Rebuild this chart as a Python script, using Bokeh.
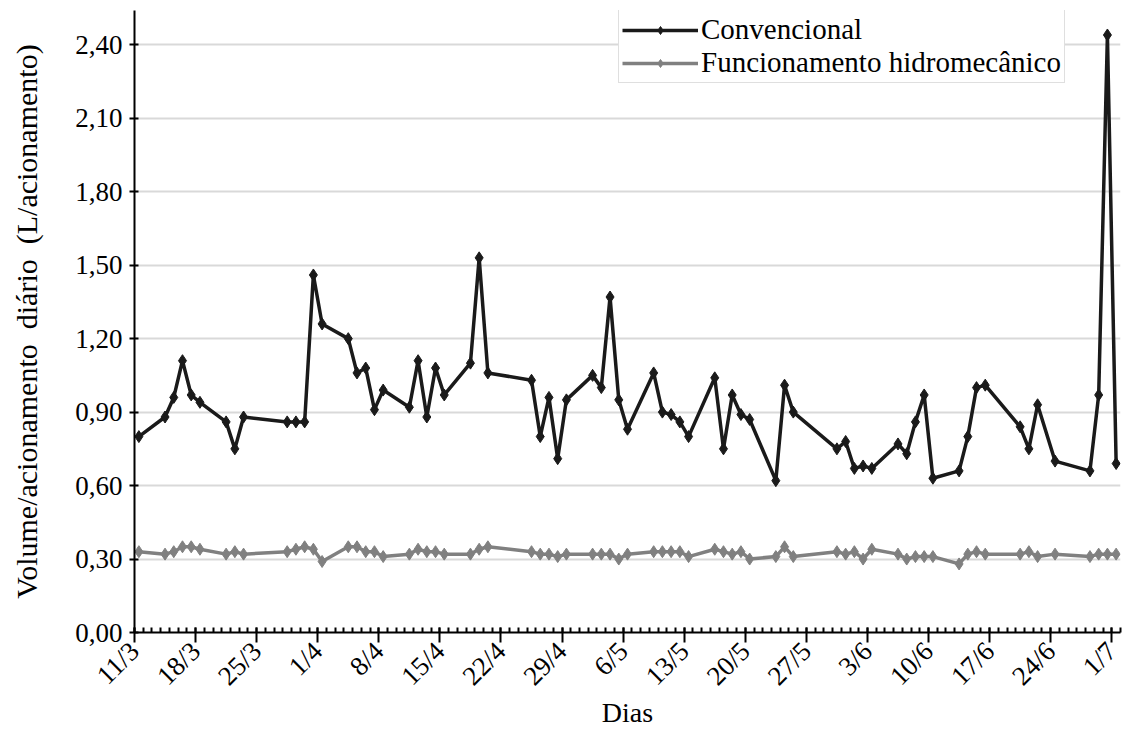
from datetime import date
from bokeh.plotting import figure
from bokeh.models import Range1d, FixedTicker, CustomJSTickFormatter, Legend, LegendItem
from bokeh.embed import file_html
from bokeh.resources import INLINE
import math

# ---- data ----
dias = ["11/3", "14/3", "15/3", "16/3", "17/3", "18/3", "21/3", "22/3", "23/3", "28/3",
        "29/3", "30/3", "31/3", "1/4", "4/4", "5/4", "6/4", "7/4", "8/4", "11/4",
        "12/4", "13/4", "14/4", "15/4", "18/4", "19/4", "20/4", "25/4", "26/4", "27/4",
        "28/4", "29/4", "2/5", "3/5", "4/5", "5/5", "6/5", "9/5", "10/5", "11/5",
        "12/5", "13/5", "16/5", "17/5", "18/5", "19/5", "20/5", "23/5", "24/5", "25/5",
        "30/5", "31/5", "1/6", "2/6", "3/6", "6/6", "7/6", "8/6", "9/6", "10/6",
        "13/6", "14/6", "15/6", "16/6", "20/6", "21/6", "22/6", "24/6", "28/6", "29/6",
        "30/6", "1/7"]
convencional = [0.80, 0.88, 0.96, 1.11, 0.97, 0.94, 0.86, 0.75, 0.88, 0.86,
                0.86, 0.86, 1.46, 1.26, 1.20, 1.06, 1.08, 0.91, 0.99, 0.92,
                1.11, 0.88, 1.08, 0.97, 1.10, 1.53, 1.06, 1.03, 0.80, 0.96,
                0.71, 0.95, 1.05, 1.00, 1.37, 0.95, 0.83, 1.06, 0.90, 0.89,
                0.86, 0.80, 1.04, 0.75, 0.97, 0.89, 0.87, 0.62, 1.01, 0.90,
                0.75, 0.78, 0.67, 0.68, 0.67, 0.77, 0.73, 0.86, 0.97, 0.63,
                0.66, 0.80, 1.00, 1.01, 0.84, 0.75, 0.93, 0.70, 0.66, 0.97,
                2.44, 0.69]
hidromecanico = [0.33, 0.32, 0.33, 0.35, 0.35, 0.34, 0.32, 0.33, 0.32, 0.33,
                 0.34, 0.35, 0.34, 0.29, 0.35, 0.35, 0.33, 0.33, 0.31, 0.32,
                 0.34, 0.33, 0.33, 0.32, 0.32, 0.34, 0.35, 0.33, 0.32, 0.32,
                 0.31, 0.32, 0.32, 0.32, 0.32, 0.30, 0.32, 0.33, 0.33, 0.33,
                 0.33, 0.31, 0.34, 0.33, 0.32, 0.33, 0.30, 0.31, 0.35, 0.31,
                 0.33, 0.32, 0.33, 0.30, 0.34, 0.32, 0.30, 0.31, 0.31, 0.31,
                 0.28, 0.32, 0.33, 0.32, 0.32, 0.33, 0.31, 0.32, 0.31, 0.32,
                 0.32, 0.32]
rotulos_x = ["11/3", "18/3", "25/3", "1/4", "8/4", "15/4", "22/4", "29/4", "6/5",
             "13/5", "20/5", "27/5", "3/6", "10/6", "17/6", "24/6", "1/7"]
valores_y = [0.00, 0.30, 0.60, 0.90, 1.20, 1.50, 1.80, 2.10, 2.40]

ANO = 2013
inicio = date(ANO, 3, 11)


def dia_idx(s):
    d, m = s.split("/")
    return (date(ANO, int(m), int(d)) - inicio).days


# points sit in the middle of each day slot (date axis, between tick marks)
xs = [dia_idx(s) + 0.5 for s in dias]
tick_pos = [dia_idx(s) for s in rotulos_x]

FONT = "Liberation Serif"

p = figure(width=1122, height=738, x_range=Range1d(0, 113), y_range=Range1d(0, 2.54),
           output_backend="svg", toolbar_location=None,
           min_border_left=134, min_border_right=2, min_border_top=10, min_border_bottom=106)
p.outline_line_color = None
p.background_fill_color = "white"
p.border_fill_color = "white"

p.xgrid.visible = False
p.ygrid.grid_line_color = "#d9d9d9"
p.ygrid.grid_line_width = 2

# x axis
p.xaxis.ticker = FixedTicker(ticks=tick_pos, minor_ticks=list(range(0, 114)))
p.xaxis.formatter = CustomJSTickFormatter(args=dict(pos=tick_pos, lab=rotulos_x), code="""
    const i = pos.indexOf(Math.round(tick));
    return i >= 0 ? lab[i] : "";
""")
p.xaxis.major_label_orientation = math.pi / 4
p.xaxis.axis_label = "Dias"
p.xaxis.major_tick_in = 5
p.xaxis.major_tick_out = 10
p.xaxis.minor_tick_in = 5
p.xaxis.minor_tick_out = 0
p.xaxis.axis_label_standoff = -8
p.xaxis.major_label_standoff = 4

# y axis
p.yaxis.ticker = FixedTicker(ticks=valores_y, minor_ticks=[])
p.yaxis.formatter = CustomJSTickFormatter(code="return tick.toFixed(2).replace('.', ',');")
p.yaxis.axis_label = "Volume/acionamento \u00a0diário \u00a0(L/acionamento)"
p.yaxis.major_tick_in = 4
p.yaxis.major_tick_out = 5
p.yaxis.axis_label_standoff = 29
p.yaxis.major_label_standoff = 7

for ax in (p.xaxis, p.yaxis):
    ax.axis_line_color = "black"
    ax.axis_line_width = 2
    ax.major_tick_line_color = "black"
    ax.major_tick_line_width = 2
    ax.minor_tick_line_color = "black"
    ax.minor_tick_line_width = 2
    ax.major_label_text_font = FONT
    ax.major_label_text_font_size = "27px"
    ax.major_label_text_color = "black"
    ax.axis_label_text_font = FONT
    ax.axis_label_text_font_style = "normal"
    ax.axis_label_text_color = "black"
p.xaxis.axis_label_text_font_size = "28px"
p.yaxis.axis_label_text_font_size = "30px"

c_conv = "#1a1a1a"
c_hid = "#808080"

l1 = p.line(xs, convencional, line_color=c_conv, line_width=3.5)
m1 = p.scatter(xs, convencional, marker="diamond", size=12, fill_color=c_conv, line_color=c_conv)
l2 = p.line(xs, hidromecanico, line_color=c_hid, line_width=3.5)
m2 = p.scatter(xs, hidromecanico, marker="diamond", size=12, fill_color=c_hid, line_color=c_hid)

legend = Legend(items=[LegendItem(label="Convencional", renderers=[l1, m1]),
                       LegendItem(label="Funcionamento hidromecânico", renderers=[l2, m2])],
                location=(484, 549))
legend.label_text_font = FONT
legend.label_text_font_size = "29px"
legend.label_text_color = "black"
legend.glyph_width = 76
legend.label_standoff = 3
legend.spacing = 0
legend.padding = 3
legend.margin = 0
legend.border_line_color = "#bfbfbf"
legend.border_line_width = 1.5
legend.background_fill_alpha = 1
p.add_layout(legend)

open("out.html", "w").write(file_html(p, INLINE))
